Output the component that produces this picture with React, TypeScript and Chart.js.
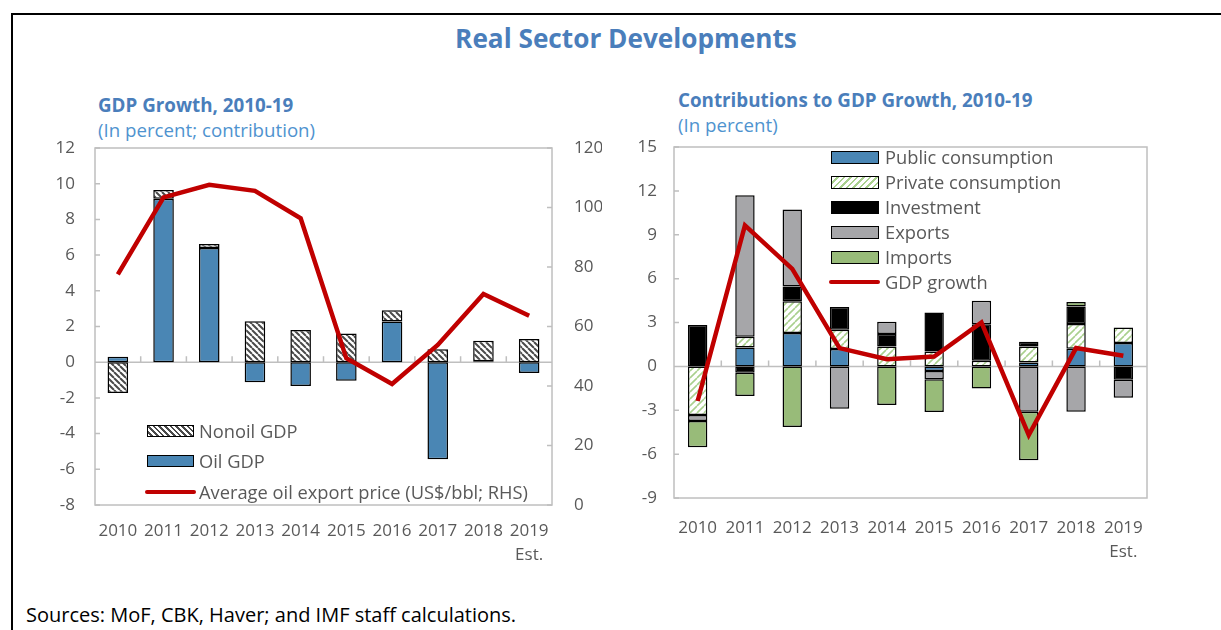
import React, { useEffect, useRef } from "react";
import { Chart, registerables } from "chart.js";

Chart.register(...registerables);

// ---------- DATA ----------
const years = ["2010", "2011", "2012", "2013", "2014", "2015", "2016", "2017", "2018", "2019"];
const xLabels: (string | string[])[] = ["2010", "2011", "2012", "2013", "2014", "2015", "2016", "2017", "2018", ["2019", "Est."]];

// Left panel: GDP growth contributions (percent) and oil price (US$/bbl, RHS)
const oilGdp = [0.3, 9.15, 6.4, -1.13, -1.34, -1.04, 2.28, -5.44, 0.05, -0.61];
const nonoilGdp = [-1.73, 0.5, 0.22, 2.3, 1.8, 1.61, 0.63, 0.72, 1.15, 1.3];
const oilPrice = [77.5, 103.4, 107.6, 105.6, 96.4, 49.3, 40.7, 53.8, 70.9, 63.6];

const leftTicksMin = -8;
const leftTicksMax = 12;
const leftStep = 2;
const rhsMin = 0;
const rhsMax = 120;
const rhsStep = 20;

// Right panel: contributions to GDP growth (percent)
const publicCons = [null, 1.29, 2.28, 1.18, null, -0.31, null, 0.27, 1.2, 1.6];
const privateCons = [-3.33, 0.73, 2.17, 1.32, 1.36, 1.02, 0.38, 1.09, 1.7, 1.05];
const investment = [2.83, -0.43, 1.01, 1.56, 0.85, 2.67, 2.5, 0.32, 1.2, -0.91];
const exportsC = [-0.4, 9.68, 5.26, -2.9, 0.84, -0.57, 1.6, -3.1, -3.1, -1.23];
const importsC = [-1.8, -1.6, -4.15, null, -2.64, -2.24, -1.52, -3.32, 0.3, null];
const gdpGrowth = [-2.37, 9.64, 6.67, 1.25, 0.49, 0.67, 3.0, -4.7, 1.25, 0.72];

const rightMin = -9;
const rightMax = 15;
const rightStep = 3;

// ---------- STYLE ----------
const FONT = "Open Sans";
const TICK_COLOR = "#595959";
const BLUE = "#4A86B4";
const GRAY = "#A6A6A9";
const GREEN = "#98BB79";
const RED = "#C00000";
const FRAME = "#BFBFBF";

function makeHatch(dir: "back" | "fwd", color: string, bg: string, size: number, lw: number) {
  const c = document.createElement("canvas");
  c.width = size;
  c.height = size;
  const g = c.getContext("2d")!;
  g.fillStyle = bg;
  g.fillRect(0, 0, size, size);
  g.strokeStyle = color;
  g.lineWidth = lw;
  g.beginPath();
  for (const k of [-size, 0, size]) {
    if (dir === "back") {
      g.moveTo(k, 0);
      g.lineTo(k + size, size);
    } else {
      g.moveTo(k, size);
      g.lineTo(k + size, 0);
    }
  }
  g.stroke();
  return g.createPattern(c, "repeat")!;
}

const framePlugin = {
  id: "frameDeco",
  beforeDatasetsDraw(chart: any) {
    const { ctx, chartArea: a, scales } = chart;
    ctx.save();
    ctx.strokeStyle = FRAME;
    ctx.lineWidth = 1.5;
    const y0 = scales.y.getPixelForValue(0);
    ctx.beginPath();
    ctx.moveTo(a.left, y0);
    ctx.lineTo(a.right, y0);
    const n = chart.data.labels.length;
    for (let i = 1; i < n; i++) {
      const x = (scales.x.getPixelForValue(i - 1) + scales.x.getPixelForValue(i)) / 2;
      ctx.moveTo(x, y0);
      ctx.lineTo(x, y0 - 6);
    }
    scales.y.ticks.forEach((t: any) => {
      const y = scales.y.getPixelForValue(t.value);
      ctx.moveTo(a.left, y);
      ctx.lineTo(a.left + 5, y);
    });
    if (scales.y1) {
      scales.y1.ticks.forEach((t: any) => {
        const y = scales.y1.getPixelForValue(t.value);
        ctx.moveTo(a.right, y);
        ctx.lineTo(a.right - 5, y);
      });
    }
    ctx.stroke();
    ctx.strokeRect(a.left, a.top, a.right - a.left, a.bottom - a.top);
    ctx.restore();
  },
};

const tickFont = { family: FONT, size: 17, lineHeight: 1.4 };

function LeftChart() {
  const ref = useRef<HTMLCanvasElement>(null);
  useEffect(() => {
    const hatch = makeHatch("back", "#4a4a4a", "#ffffff", 6, 2);
    const chart = new Chart(ref.current!, {
      type: "bar",
      data: {
        labels: xLabels as any,
        datasets: [
          {
            type: "line",
            label: "Average oil export price (US$/bbl; RHS)",
            data: oilPrice,
            yAxisID: "y1",
            borderColor: RED,
            borderWidth: 4.5,
            pointRadius: 0,
            fill: false,
            tension: 0,
            order: 0,
          } as any,
          {
            label: "Oil GDP",
            data: oilGdp,
            backgroundColor: BLUE,
            borderColor: "#000",
            borderWidth: 1.5,
            borderSkipped: false,
            stack: "s",
            order: 1,
          },
          {
            label: "Nonoil GDP",
            data: nonoilGdp,
            backgroundColor: hatch,
            borderColor: "#000",
            borderWidth: 1.5,
            borderSkipped: false,
            stack: "s",
            order: 1,
          },
        ],
      },
      options: {
        responsive: false,
        animation: false,
        layout: { padding: { left: 35, right: 18, top: 148, bottom: 35 } },
        plugins: { legend: { display: false }, tooltip: { enabled: false }, title: { display: false } },
        datasets: { bar: { categoryPercentage: 1, barPercentage: 0.45 } },
        scales: {
          x: {
            stacked: true,
            grid: { display: false, drawTicks: false },
            border: { display: false },
            ticks: { color: TICK_COLOR, font: tickFont, padding: 14, maxRotation: 0, autoSkip: false },
            afterFit: (s: any) => {
              s.height = 60;
            },
          },
          y: {
            stacked: true,
            min: leftTicksMin,
            max: leftTicksMax,
            grid: { display: false, drawTicks: false },
            border: { display: false },
            ticks: { stepSize: leftStep, color: TICK_COLOR, font: tickFont, padding: 20 },
            afterFit: (s: any) => {
              s.width = 60;
            },
          },
          y1: {
            position: "right",
            min: rhsMin,
            max: rhsMax,
            grid: { display: false, drawTicks: false },
            border: { display: false },
            ticks: { stepSize: rhsStep, color: TICK_COLOR, font: tickFont, padding: 22 },
            afterFit: (s: any) => {
              s.width = 50;
            },
          },
        },
      } as any,
      plugins: [framePlugin],
    });
    return () => chart.destroy();
  }, []);
  return <canvas ref={ref} width={620} height={600} style={{ position: "absolute", left: 0, top: 0 }} />;
}

function RightChart() {
  const ref = useRef<HTMLCanvasElement>(null);
  useEffect(() => {
    const hatch = makeHatch("fwd", "#A9D08E", "#ffffff", 7, 1.6);
    const barBase = { borderColor: "#000", borderWidth: 1.5, borderSkipped: false, stack: "s", order: 1 };
    const chart = new Chart(ref.current!, {
      type: "bar",
      data: {
        labels: xLabels as any,
        datasets: [
          {
            type: "line",
            label: "GDP growth",
            data: gdpGrowth,
            borderColor: RED,
            borderWidth: 4.5,
            pointRadius: 0,
            fill: false,
            tension: 0,
            order: 0,
          } as any,
          { ...barBase, label: "Public consumption", data: publicCons, backgroundColor: BLUE },
          { ...barBase, label: "Private consumption", data: privateCons, backgroundColor: hatch },
          { ...barBase, label: "Investment", data: investment, backgroundColor: "#000" },
          { ...barBase, label: "Exports", data: exportsC, backgroundColor: GRAY },
          { ...barBase, label: "Imports", data: importsC, backgroundColor: GREEN },
        ],
      },
      options: {
        responsive: false,
        animation: false,
        layout: { padding: { left: 9, right: 74, top: 147, bottom: 42 } },
        plugins: { legend: { display: false }, tooltip: { enabled: false }, title: { display: false } },
        datasets: { bar: { categoryPercentage: 1, barPercentage: 0.41 } },
        scales: {
          x: {
            stacked: true,
            grid: { display: false, drawTicks: false },
            border: { display: false },
            ticks: { color: TICK_COLOR, font: tickFont, padding: 18, maxRotation: 0, autoSkip: false },
            afterFit: (s: any) => {
              s.height = 60;
            },
          },
          y: {
            stacked: true,
            min: rightMin,
            max: rightMax,
            grid: { display: false, drawTicks: false },
            border: { display: false },
            ticks: { stepSize: rightStep, color: TICK_COLOR, font: tickFont, padding: 17 },
            afterFit: (s: any) => {
              s.width = 45;
            },
          },
        },
      } as any,
      plugins: [framePlugin],
    });
    return () => chart.destroy();
  }, []);
  return <canvas ref={ref} width={601} height={600} style={{ position: "absolute", left: 620, top: 0 }} />;
}

const legendText: React.CSSProperties = {
  position: "absolute",
  fontFamily: FONT,
  fontSize: 18.3,
  color: TICK_COLOR,
  lineHeight: "22px",
  whiteSpace: "nowrap",
};

function LegendRow(props: { x: number; y: number; swatch: React.ReactNode; text: string; tx: number }) {
  return (
    <>
      {props.swatch}
      <div style={{ ...legendText, left: props.tx, top: props.y - 11 }}>{props.text}</div>
    </>
  );
}

function boxSwatch(x: number, cy: number, w: number, h: number, bg: string) {
  return (
    <div
      style={{
        position: "absolute",
        left: x,
        top: cy - h / 2,
        width: w,
        height: h,
        background: bg,
        border: "1.5px solid #000",
        boxSizing: "border-box",
      }}
    />
  );
}

function lineSwatch(x: number, cy: number, w: number) {
  return <div style={{ position: "absolute", left: x, top: cy - 2.25, width: w, height: 4.5, background: RED, borderRadius: 2 }} />;
}

const nonoilCss = "repeating-linear-gradient(45deg, #ffffff 0px, #ffffff 2px, #4a4a4a 2px, #4a4a4a 4px)";
const privateCss = "repeating-linear-gradient(-45deg, #ffffff 0px, #ffffff 3px, #A9D08E 3px, #A9D08E 4.6px)";

export default function App() {
  return (
    <div
      style={{
        position: "fixed",
        left: 0,
        top: 0,
        width: 1221,
        height: 630,
        overflow: "hidden",
        background: "#fff",
        fontFamily: FONT,
      }}
    >
      <div
        style={{
          position: "absolute",
          left: 11,
          top: 13,
          width: 1400,
          height: 900,
          borderLeft: "2px solid #000",
          borderTop: "2px solid #000",
        }}
      />
      <div
        style={{
          position: "absolute",
          left: 326,
          width: 600,
          top: 21,
          textAlign: "center",
          fontFamily: FONT,
          fontWeight: 700,
          fontSize: 26.2,
          lineHeight: "34px",
          color: "#4A7EBB",
        }}
      >
        Real Sector Developments
      </div>
      <div style={{ position: "absolute", left: 98, top: 93, fontWeight: 700, fontSize: 18.8, lineHeight: "24px", color: "#4A7EBB" }}>
        GDP Growth, 2010-19
      </div>
      <div style={{ position: "absolute", left: 98, top: 118, fontSize: 18.7, lineHeight: "24px", color: "#4F93CF" }}>
        (In percent; contribution)
      </div>
      <div style={{ position: "absolute", left: 678, top: 88, fontWeight: 700, fontSize: 18.8, lineHeight: "24px", color: "#4A7EBB" }}>
        Contributions to GDP Growth, 2010-19
      </div>
      <div style={{ position: "absolute", left: 678, top: 113, fontSize: 18.7, lineHeight: "24px", color: "#4F93CF" }}>
        (In percent)
      </div>

      <LeftChart />
      <RightChart />

      {/* left legend */}
      <LegendRow x={147} y={431} tx={199} text="Nonoil GDP" swatch={boxSwatch(147, 431, 47, 12, nonoilCss)} />
      <LegendRow x={147} y={461} tx={199} text="Oil GDP" swatch={boxSwatch(147, 461, 47, 12, BLUE)} />
      <LegendRow x={147} y={492} tx={199} text="Average oil export price (US$/bbl; RHS)" swatch={lineSwatch(145, 492, 51)} />

      {/* right legend */}
      <LegendRow x={831} y={157} tx={885} text="Public consumption" swatch={boxSwatch(831, 157, 48, 13, BLUE)} />
      <LegendRow x={831} y={182} tx={885} text="Private consumption" swatch={boxSwatch(831, 182, 48, 13, privateCss)} />
      <LegendRow x={831} y={207} tx={885} text="Investment" swatch={boxSwatch(831, 207, 48, 13, "#000")} />
      <LegendRow x={831} y={232} tx={885} text="Exports" swatch={boxSwatch(831, 232, 48, 13, GRAY)} />
      <LegendRow x={831} y={257} tx={885} text="Imports" swatch={boxSwatch(831, 257, 48, 13, GREEN)} />
      <LegendRow x={831} y={282} tx={885} text="GDP growth" swatch={lineSwatch(829, 282, 51)} />

      <div style={{ position: "absolute", left: 26, top: 603, fontSize: 20, lineHeight: "24px", color: "#000" }}>
        Sources: MoF, CBK, Haver; and IMF staff calculations.
      </div>
    </div>
  );
}
